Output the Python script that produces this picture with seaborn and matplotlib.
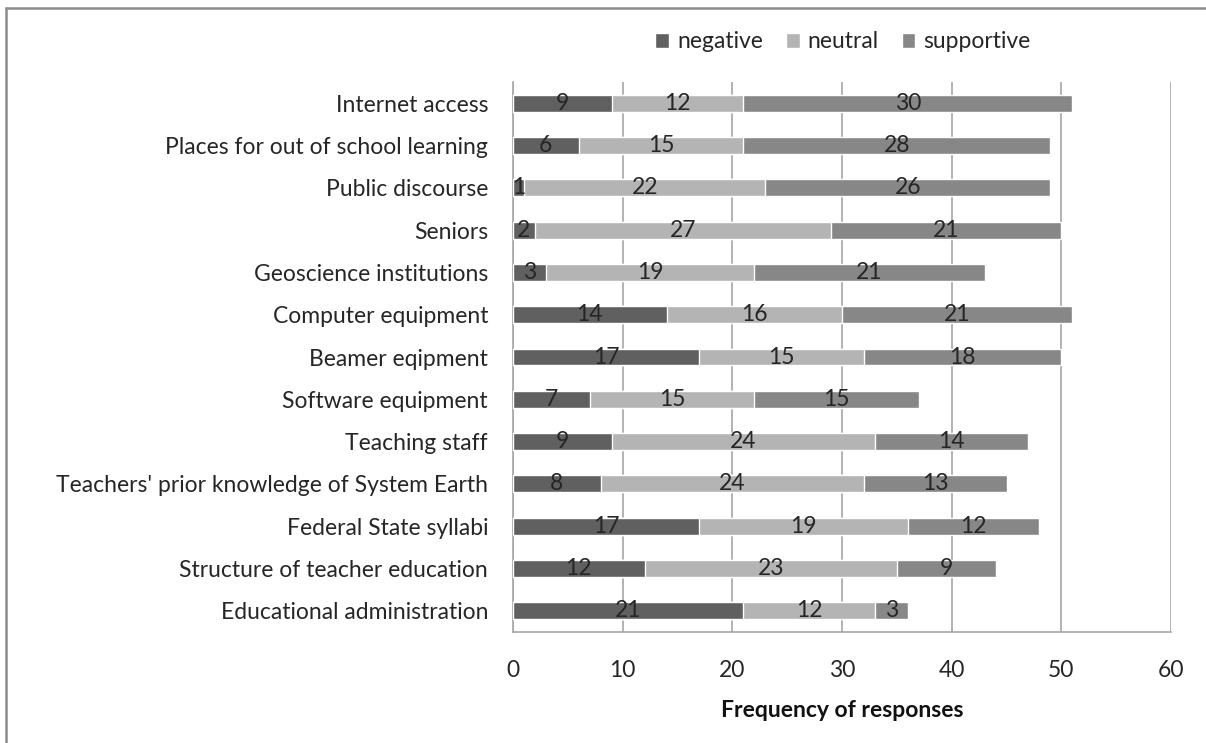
import numpy as np
import pandas as pd
import matplotlib.pyplot as plt
import seaborn as sns
from matplotlib.patches import Patch
from matplotlib.lines import Line2D

categories = ["Internet access", "Places for out of school learning", "Public discourse",
              "Seniors", "Geoscience institutions", "Computer equipment", "Beamer eqipment",
              "Software equipment", "Teaching staff", "Teachers' prior knowledge of System Earth",
              "Federal State syllabi", "Structure of teacher education", "Educational administration"]
negative = [9, 6, 1, 2, 3, 14, 17, 7, 9, 8, 17, 12, 21]
neutral = [12, 15, 22, 27, 19, 16, 15, 15, 24, 24, 19, 23, 12]
supportive = [30, 28, 26, 21, 21, 21, 18, 15, 14, 13, 12, 9, 3]
series_names = ["negative", "neutral", "supportive"]
colors = {"negative": "#606060", "neutral": "#b4b4b4", "supportive": "#878787"}

df = pd.DataFrame({"item": categories, "negative": negative,
                   "neutral": neutral, "supportive": supportive})
df["neg_neu"] = df["negative"] + df["neutral"]
df["total"] = df["neg_neu"] + df["supportive"]

sns.set_style("white")
plt.rcParams["font.family"] = ["Lato", "DejaVu Sans"]
text_col = "#262626"
fs = 16.5

fig = plt.figure(figsize=(12.06, 7.43), dpi=100)
ax = fig.add_axes([0.4254, 0.1494, 0.9710 - 0.4254, 0.8896 - 0.1494])

# stacked bars drawn as overlapping cumulative totals
sns.barplot(data=df, y="item", x="total", color=colors["supportive"], width=0.4,
            orient="h", ax=ax, saturation=1, zorder=3)
sns.barplot(data=df, y="item", x="neg_neu", color=colors["neutral"], width=0.4,
            orient="h", ax=ax, saturation=1, zorder=3)
sns.barplot(data=df, y="item", x="negative", color=colors["negative"], width=0.4,
            orient="h", ax=ax, saturation=1, zorder=3)

# segment labels
for i, row in df.iterrows():
    starts = [0, row["negative"], row["neg_neu"]]
    for s, name in zip(starts, series_names):
        v = row[name]
        ax.text(s + v / 2, i, str(v), ha="center", va="center",
                fontsize=fs, color=text_col, zorder=4)

ax.set_xlim(0, 60)
ax.set_ylim(12.5, -0.5)
ax.set_xticks(range(0, 61, 10))
ax.xaxis.grid(True, color="#a6a6a6", linewidth=1.2, zorder=0)
ax.set_axisbelow(True)
ax.set_xlabel("Frequency of responses", fontsize=fs, fontweight="bold",
              color="#111111", labelpad=14)
ax.set_ylabel("")

for side in ["top", "right"]:
    ax.spines[side].set_visible(False)
for side in ["left", "bottom"]:
    ax.spines[side].set_color("#a6a6a6")
    ax.spines[side].set_linewidth(1.2)

ax.tick_params(axis="x", length=6, color="#a6a6a6", width=1.2, pad=14,
               labelsize=fs, labelcolor=text_col)
ax.tick_params(axis="y", which="major", length=0, pad=18, labelsize=fs, labelcolor=text_col)
ax.set_yticks(np.arange(-0.5, 13, 1), minor=True)
ax.tick_params(axis="y", which="minor", length=6, color="#a6a6a6", width=1.2)

handles = [Patch(facecolor=colors[n], label=n) for n in series_names]
fig.legend(handles=handles, loc="center", bbox_to_anchor=(843 / 1206, 1 - 42 / 743),
           ncol=3, frameon=False, fontsize=fs, handlelength=0.6, handleheight=0.6,
           handletextpad=0.35, columnspacing=1.0, labelcolor=text_col)

# outer frame (top and left edges visible)
fig.add_artist(Line2D([6 / 1206, 1], [1 - 8 / 743, 1 - 8 / 743], color="#8c8c8c", linewidth=1.8))
fig.add_artist(Line2D([6 / 1206, 6 / 1206], [0, 1 - 8 / 743], color="#8c8c8c", linewidth=1.8))

fig.savefig("out.png", dpi=100)
